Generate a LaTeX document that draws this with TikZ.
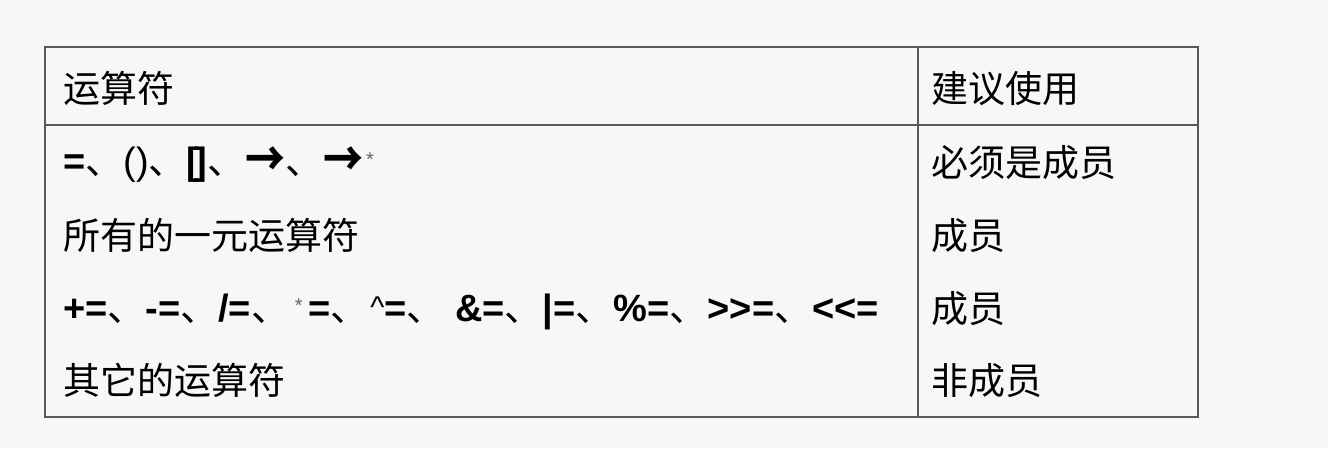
\documentclass[tikz,border=0pt]{standalone}
\usepackage{fontspec}
\setmainfont{Liberation Sans}[Ligatures=TeXOff]
\newfontfamily\cjk{Noto Sans CJK SC}
\newcommand\dun{{\cjk\mdseries\fontsize{38}{40}\selectfont 、}}
\newcommand\bigarrow{{\cjk\bfseries\fontsize{40}{44}\selectfont\raisebox{-0.07em}{\scalebox{1}[1.2]{→}}}}
\newcommand\smallstar{{\mdseries\color{black!60}\fontsize{20}{22}\selectfont *}}
\begin{document}
\begin{tikzpicture}[x=1pt,y=-1pt,
  cell/.style={anchor=base west, inner sep=0pt, font=\cjk\fontsize{37}{40}\selectfont},
  sym/.style={anchor=base west, inner sep=0pt, font=\fontsize{38}{42}\selectfont\bfseries},
  grid/.style={draw=black!65, line width=2.2pt}]
\fill[black!3] (0,0) rectangle (1328,448);
\useasboundingbox (0,0) rectangle (1328,448);
% table frame
\draw[grid] (45,47) rectangle (1198,417);
\draw[grid] (45,125) -- (1198,125);
\draw[grid] (918,47) -- (918,417);
% header
\node[cell] (h1) at (63,102) {运算符};
\node[cell] (h2) at (931,102) {建议使用};
% left column
\node[sym] (r1) at (63,174) {=\dun{\mdseries ()}\dun[\kern-0.12em]\dun\bigarrow\dun\bigarrow\kern0.07em\raisebox{0.2em}{\smallstar}};
\node[cell] (r2) at (63,249) {所有的一元运算符};
\node[sym] (r3) at (63,321) {+=\dun-=\dun/=\dun\kern0.15em\raisebox{0.22em}{\smallstar}\kern0.15em=\dun\kern0.05em\raisebox{0.08em}{\mdseries\fontsize{30}{32}\selectfont\textasciicircum}=\dun\ \&=\dun|=\dun\%=\dun>>=\dun<<=};
\node[cell] (r4) at (63,394) {其它的运算符};
% right column
\node[cell] (s1) at (931,176) {必须是成员};
\node[cell] (s2) at (931,249) {成员};
\node[cell] (s3) at (931,322) {成员};
\node[cell] (s4) at (931,394) {非成员};
\end{tikzpicture}
\end{document}
